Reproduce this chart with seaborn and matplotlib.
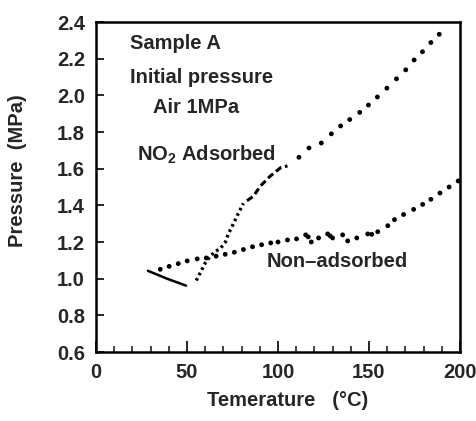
import matplotlib
matplotlib.use("Agg")
import matplotlib.pyplot as plt
import seaborn as sns
import pandas as pd
from matplotlib.ticker import MultipleLocator

# ---- data ----
solid_t = [28.5, 39.0, 49.5]
solid_p = [1.043, 1.000, 0.962]

dense_t = [55.1, 60.1, 62.8, 65.6, 68.3, 71.1, 72.7, 75.5, 78.2, 81.0]
dense_p = [0.990, 1.087, 1.123, 1.149, 1.164, 1.200, 1.244, 1.300, 1.356, 1.411]

dash_t = [83.0, 86.5, 90.4, 95.9, 101.4, 105.2]
dash_p = [1.425, 1.450, 1.506, 1.561, 1.605, 1.615]

sparse_t = [111.5, 117.0, 123.8, 129.3, 134.4, 139.4, 144.9, 149.7, 154.6, 159.8,
            165.1, 170.2, 174.8, 179.4, 184.0, 188.6]
sparse_p = [1.662, 1.713, 1.740, 1.790, 1.833, 1.868, 1.907, 1.947, 1.991, 2.039,
            2.090, 2.139, 2.193, 2.238, 2.288, 2.333]

non_t = [35.3, 40.2, 45.2, 50.1, 55.6, 60.6, 66.0, 71.0, 76.0, 81.0, 86.0, 91.0,
         96.0, 100.0, 105.2, 110.2, 115.2, 116.6, 118.3, 122.3, 127.3, 128.7, 130.0,
         135.5, 138.3, 143.3, 149.3, 151.5, 154.8, 160.3, 164.0, 169.0, 174.5, 179.5,
         184.0, 189.0, 194.0, 199.0]
non_p = [1.051, 1.067, 1.082, 1.097, 1.108, 1.113, 1.123, 1.133, 1.144, 1.159, 1.174,
         1.185, 1.195, 1.200, 1.211, 1.217, 1.239, 1.228, 1.200, 1.222, 1.244, 1.233,
         1.222, 1.239, 1.206, 1.222, 1.244, 1.242, 1.256, 1.289, 1.322, 1.350, 1.378,
         1.405, 1.433, 1.467, 1.500, 1.533]

x_ticks = [0, 50, 100, 150, 200]
y_ticks = [0.6, 0.8, 1.0, 1.2, 1.4, 1.6, 1.8, 2.0, 2.2, 2.4]

sns.set_style("ticks")
plt.rcParams['font.family'] = ['Liberation Sans', 'DejaVu Sans']
plt.rcParams['font.weight'] = 'bold'
plt.rcParams['mathtext.fontset'] = 'custom'
plt.rcParams['mathtext.rm'] = 'Liberation Sans:bold'
plt.rcParams['mathtext.bf'] = 'Liberation Sans:bold'
plt.rcParams['mathtext.it'] = 'Liberation Sans:bold'
plt.rcParams['mathtext.default'] = 'rm'

FS = 14.5
fig = plt.figure(figsize=(4.77, 4.21), dpi=100)
ax = fig.add_axes([96/477, 1-352/421, 364/477, 330/421])

df_solid = pd.DataFrame({"t": solid_t, "p": solid_p})
df_dense = pd.DataFrame({"t": dense_t, "p": dense_p})
df_dash = pd.DataFrame({"t": dash_t, "p": dash_p})
df_sparse = pd.DataFrame({"t": sparse_t, "p": sparse_p})
df_non = pd.DataFrame({"t": non_t, "p": non_p})

sns.lineplot(data=df_solid, x="t", y="p", ax=ax, color="black", lw=1.8, sort=False)
sns.lineplot(data=df_dense, x="t", y="p", ax=ax, color="black", lw=2.4, sort=False)
ax.lines[-1].set_linestyle((0, (0.8, 1.0)))
sns.lineplot(data=df_dash, x="t", y="p", ax=ax, color="black", lw=2.2, sort=False)
ax.lines[-1].set_linestyle((0, (2.2, 1.2)))
sns.scatterplot(data=df_sparse, x="t", y="p", ax=ax, color="black", s=12, edgecolor="none")
sns.scatterplot(data=df_non, x="t", y="p", ax=ax, color="black", s=12, edgecolor="none")

ax.set_xlim(0, 200)
ax.set_ylim(0.6, 2.4)
ax.set_xticks(x_ticks)
ax.set_yticks(y_ticks)
ax.set_yticklabels([f"{v:.1f}" for v in y_ticks])
ax.xaxis.set_minor_locator(MultipleLocator(10))
ax.tick_params(axis='both', which='major', direction='in', length=6, width=1.4,
               labelsize=FS, pad=8)
ax.tick_params(axis='x', which='major', length=8)
ax.tick_params(axis='x', which='minor', direction='in', length=4, width=1.2)
for s in ax.spines.values():
    s.set_visible(True)
    s.set_linewidth(1.8)
    s.set_color("black")

ax.set_xlabel("Temerature   (°C)", fontsize=FS, fontweight='bold')
ax.set_ylabel("Pressure  (MPa)", fontsize=FS, fontweight='bold')
ax.xaxis.set_label_coords(0.526, -0.118)
ax.yaxis.set_label_coords(-0.19, 0.55)

tk = dict(transform=ax.transAxes, fontsize=FS, fontweight='bold', va='center', ha='left')
ax.text(0.093, 0.936, "Sample A", **tk)
ax.text(0.093, 0.833, "Initial pressure", **tk)
ax.text(0.157, 0.742, "Air 1MPa", **tk)
ax.text(0.113, 0.597, "NO$_2$ Adsorbed", **tk)
ax.text(0.470, 0.273, "Non\u2013adsorbed", **tk)

fig.savefig("out.png", dpi=100, facecolor="white")
